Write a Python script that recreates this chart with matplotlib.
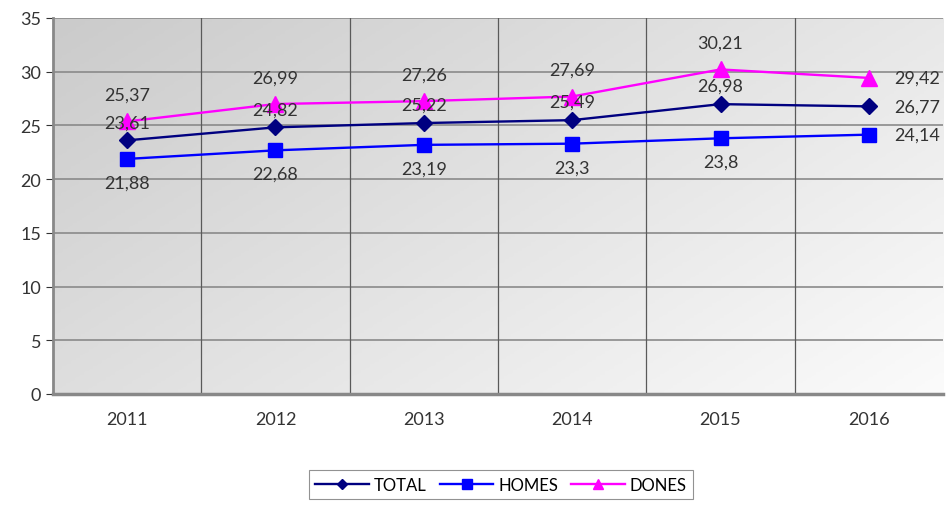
import numpy as np
import matplotlib
matplotlib.use('Agg')
import matplotlib.pyplot as plt
from matplotlib.colors import LinearSegmentedColormap

plt.rcParams['font.family'] = ['Lato', 'DejaVu Sans']

years = ['2011', '2012', '2013', '2014', '2015', '2016']
total = [23.61, 24.82, 25.22, 25.49, 26.98, 26.77]
homes = [21.88, 22.68, 23.19, 23.3, 23.8, 24.14]
dones = [25.37, 26.99, 27.26, 27.69, 30.21, 29.42]

def fmt(v):
    return ('%g' % v).replace('.', ',')

fig = plt.figure(figsize=(9.49, 5.06), dpi=100)
ax = fig.add_axes([0.0558, 0.2194, 0.9379, 0.7431])

x = np.arange(len(years))

# gradient background: grey at top-left, lighter toward bottom-right
gx, gy = np.meshgrid(np.linspace(0, 1, 200), np.linspace(0, 1, 200))
grad = gx * 0.6 + (1 - gy) * 0.4
cmap = LinearSegmentedColormap.from_list('bg', ['#c6c6c6', '#fbfbfb'])
ax.imshow(grad, extent=[-0.5, len(years) - 0.5, 0, 35], cmap=cmap,
          aspect='auto', zorder=0, origin='lower', vmin=-0.1, vmax=1)
ax.set_xlim(-0.5, len(years) - 0.5)
ax.set_ylim(0, 35)

# grid
for yv in range(5, 36, 5):
    ax.axhline(yv, color='#8a8a8a', lw=1.2, zorder=1)
for xv in np.arange(0.5, len(years) - 0.5, 1):
    ax.axvline(xv, color='#5a5a5a', lw=0.9, zorder=1)

ax.plot(x, total, color='#000080', lw=1.7, marker='D', ms=8, label='TOTAL', zorder=3)
ax.plot(x, homes, color='#0000ff', lw=1.7, marker='s', ms=10, label='HOMES', zorder=3)
ax.plot(x, dones, color='#ff00ff', lw=1.7, marker='^', ms=11, label='DONES', zorder=3)

last = len(years) - 1
lbl = dict(textcoords='offset points', fontsize=13, color='#333333', va='center')
for i in x:
    if i == last:
        for s in (total, homes, dones):
            ax.annotate(fmt(s[i]), (i, s[i]), xytext=(18, 0), ha='left', **lbl)
    else:
        ax.annotate(fmt(total[i]), (i, total[i]), xytext=(0, 13), ha='center', **lbl)
        ax.annotate(fmt(homes[i]), (i, homes[i]), xytext=(0, -17), ha='center', **lbl)
        ax.annotate(fmt(dones[i]), (i, dones[i]), xytext=(0, 19), ha='center', **lbl)

ax.set_xticks(x)
ax.set_xticklabels(years)
ax.set_yticks(range(0, 36, 5))
ax.tick_params(axis='both', labelsize=13, colors='#333333', length=5)
ax.tick_params(axis='x', length=0, pad=12)
for s in ['top', 'right']:
    ax.spines[s].set_visible(False)
ax.spines['left'].set_color('#888888')
ax.spines['left'].set_linewidth(2)
ax.spines['bottom'].set_color('#888888')
ax.spines['bottom'].set_linewidth(2.5)

leg = fig.legend(loc='lower center', bbox_to_anchor=(0.528, -0.005), ncol=3, fontsize=12,
                 frameon=True, fancybox=False, edgecolor='#777777', handlelength=3.2,
                 columnspacing=0.8, handletextpad=0.3, markerscale=0.7)
leg.get_frame().set_linewidth(0.8)

fig.savefig('out.png', dpi=100, facecolor='white')
